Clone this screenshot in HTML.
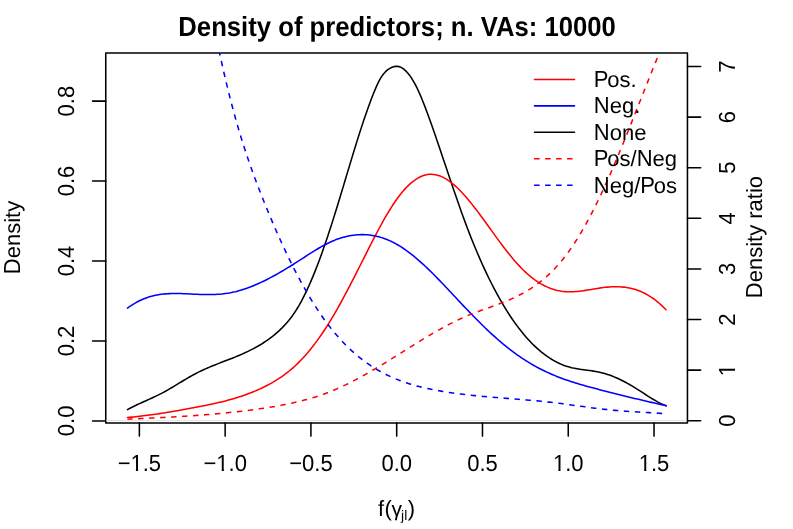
<!DOCTYPE html>
<html><head><meta charset="utf-8"><title>Density of predictors</title>
<style>html,body{margin:0;padding:0;background:#fff;}svg{display:block;will-change:transform;font-family:"Liberation Sans",sans-serif;}text{fill:#000;text-rendering:geometricPrecision;}</style>
</head><body>
<svg width="793" height="529" viewBox="0 0 793 529">
<rect x="0" y="0" width="793" height="529" fill="#ffffff"/>
<defs><clipPath id="pc"><rect x="105.75" y="52.95" width="581.7" height="369.95"/></clipPath></defs>
<g clip-path="url(#pc)" fill="none" stroke-width="1.55" stroke-linecap="round" stroke-linejoin="round">
<path d="M127.50,409.61 L129.50,408.53 L131.50,407.49 L133.50,406.48 L135.50,405.51 L137.50,404.56 L139.50,403.64 L141.50,402.73 L143.50,401.83 L145.50,400.93 L147.50,400.04 L149.50,399.14 L151.50,398.24 L153.50,397.31 L155.50,396.37 L157.50,395.41 L159.50,394.42 L161.50,393.39 L163.50,392.32 L165.50,391.23 L167.50,390.10 L169.50,388.94 L171.50,387.77 L173.50,386.57 L175.50,385.37 L177.50,384.16 L179.50,382.95 L181.50,381.74 L183.50,380.53 L185.50,379.34 L187.50,378.16 L189.50,377.01 L191.50,375.87 L193.50,374.77 L195.50,373.70 L197.50,372.67 L199.50,371.68 L201.50,370.71 L203.50,369.78 L205.50,368.88 L207.50,368.00 L209.50,367.15 L211.50,366.31 L213.50,365.49 L215.50,364.69 L217.50,363.90 L219.50,363.11 L221.50,362.34 L223.50,361.56 L225.50,360.79 L227.50,360.02 L229.50,359.24 L231.50,358.46 L233.50,357.66 L235.50,356.86 L237.50,356.04 L239.50,355.20 L241.50,354.34 L243.50,353.46 L245.50,352.55 L247.50,351.61 L249.50,350.64 L251.50,349.64 L253.50,348.60 L255.50,347.53 L257.50,346.41 L259.50,345.25 L261.50,344.04 L263.50,342.78 L265.50,341.46 L267.50,340.09 L269.50,338.66 L271.50,337.16 L273.50,335.58 L275.50,333.92 L277.50,332.18 L279.50,330.35 L281.50,328.42 L283.50,326.39 L285.50,324.24 L287.50,321.96 L289.50,319.53 L291.50,316.94 L293.50,314.17 L295.50,311.20 L297.50,308.03 L299.50,304.63 L301.50,301.02 L303.50,297.19 L305.50,293.16 L307.50,288.93 L309.50,284.50 L311.50,279.88 L313.50,275.08 L315.50,270.11 L317.50,264.96 L319.50,259.65 L321.50,254.18 L323.50,248.56 L325.50,242.80 L327.50,236.89 L329.50,230.85 L331.50,224.68 L333.50,218.39 L335.50,211.99 L337.50,205.51 L339.50,198.95 L341.50,192.34 L343.50,185.70 L345.50,179.04 L347.50,172.38 L349.50,165.73 L351.50,159.11 L353.50,152.55 L355.50,146.05 L357.50,139.64 L359.50,133.32 L361.50,127.13 L363.50,121.07 L365.50,115.17 L367.50,109.44 L369.50,103.90 L371.50,98.57 L373.50,93.47 L375.50,88.64 L377.50,84.16 L379.50,80.15 L381.50,76.71 L383.50,73.90 L385.50,71.68 L387.50,69.93 L389.50,68.57 L391.50,67.50 L393.50,66.76 L395.50,66.37 L397.50,66.37 L399.50,66.80 L401.50,67.65 L403.50,68.91 L405.50,70.59 L407.50,72.68 L409.50,75.17 L411.50,78.05 L413.50,81.32 L415.50,84.97 L417.50,88.99 L419.50,93.36 L421.50,98.03 L423.50,102.96 L425.50,108.12 L427.50,113.48 L429.50,118.99 L431.50,124.61 L433.50,130.32 L435.50,136.09 L437.50,141.93 L439.50,147.80 L441.50,153.71 L443.50,159.65 L445.50,165.59 L447.50,171.53 L449.50,177.47 L451.50,183.37 L453.50,189.25 L455.50,195.07 L457.50,200.84 L459.50,206.54 L461.50,212.16 L463.50,217.69 L465.50,223.11 L467.50,228.42 L469.50,233.62 L471.50,238.70 L473.50,243.68 L475.50,248.54 L477.50,253.29 L479.50,257.93 L481.50,262.46 L483.50,266.88 L485.50,271.20 L487.50,275.41 L489.50,279.51 L491.50,283.51 L493.50,287.41 L495.50,291.21 L497.50,294.90 L499.50,298.49 L501.50,301.98 L503.50,305.37 L505.50,308.67 L507.50,311.86 L509.50,314.96 L511.50,317.97 L513.50,320.87 L515.50,323.69 L517.50,326.41 L519.50,329.04 L521.50,331.58 L523.50,334.02 L525.50,336.38 L527.50,338.65 L529.50,340.83 L531.50,342.92 L533.50,344.93 L535.50,346.85 L537.50,348.69 L539.50,350.44 L541.50,352.11 L543.50,353.70 L545.50,355.21 L547.50,356.63 L549.50,357.97 L551.50,359.24 L553.50,360.42 L555.50,361.53 L557.50,362.55 L559.50,363.50 L561.50,364.38 L563.50,365.18 L565.50,365.90 L567.50,366.55 L569.50,367.12 L571.50,367.64 L573.50,368.09 L575.50,368.49 L577.50,368.85 L579.50,369.17 L581.50,369.47 L583.50,369.75 L585.50,370.02 L587.50,370.28 L589.50,370.55 L591.50,370.83 L593.50,371.13 L595.50,371.46 L597.50,371.82 L599.50,372.23 L601.50,372.69 L603.50,373.20 L605.50,373.77 L607.50,374.40 L609.50,375.08 L611.50,375.81 L613.50,376.60 L615.50,377.43 L617.50,378.31 L619.50,379.24 L621.50,380.20 L623.50,381.22 L625.50,382.27 L627.50,383.36 L629.50,384.49 L631.50,385.65 L633.50,386.85 L635.50,388.07 L637.50,389.33 L639.50,390.61 L641.50,391.91 L643.50,393.21 L645.50,394.51 L647.50,395.80 L649.50,397.07 L651.50,398.32 L653.50,399.53 L655.50,400.70 L657.50,401.82 L659.50,402.88 L661.50,403.88 L663.50,404.80 L665.50,405.64 L666.00,405.84" stroke="#000"/>
</g>
<g fill="none" stroke="#000" stroke-width="1.55" stroke-linecap="round" stroke-linejoin="round">
<line x1="139.37" y1="422.9" x2="139.37" y2="436.10"/>
<line x1="225.15" y1="422.9" x2="225.15" y2="436.10"/>
<line x1="310.92" y1="422.9" x2="310.92" y2="436.10"/>
<line x1="396.70" y1="422.9" x2="396.70" y2="436.10"/>
<line x1="482.48" y1="422.9" x2="482.48" y2="436.10"/>
<line x1="568.25" y1="422.9" x2="568.25" y2="436.10"/>
<line x1="654.03" y1="422.9" x2="654.03" y2="436.10"/>
<line x1="105.75" y1="420.90" x2="92.55" y2="420.90"/>
<line x1="105.75" y1="340.95" x2="92.55" y2="340.95"/>
<line x1="105.75" y1="261.00" x2="92.55" y2="261.00"/>
<line x1="105.75" y1="181.05" x2="92.55" y2="181.05"/>
<line x1="105.75" y1="101.10" x2="92.55" y2="101.10"/>
<rect x="105.75" y="52.95" width="581.7" height="369.95"/>
</g>
<g clip-path="url(#pc)" fill="none" stroke-width="1.55" stroke-linecap="round" stroke-linejoin="round">
<line x1="105.75" y1="420.6" x2="687.45" y2="420.6" stroke="#d9d9d9" stroke-width="0.8" stroke-linecap="butt"/>
<path d="M127.50,417.46 L129.50,417.29 L131.50,417.11 L133.50,416.91 L135.50,416.71 L137.50,416.50 L139.50,416.28 L141.50,416.05 L143.50,415.81 L145.50,415.56 L147.50,415.31 L149.50,415.04 L151.50,414.77 L153.50,414.49 L155.50,414.20 L157.50,413.91 L159.50,413.61 L161.50,413.30 L163.50,412.99 L165.50,412.67 L167.50,412.35 L169.50,412.02 L171.50,411.68 L173.50,411.34 L175.50,411.00 L177.50,410.65 L179.50,410.29 L181.50,409.94 L183.50,409.57 L185.50,409.21 L187.50,408.84 L189.50,408.47 L191.50,408.09 L193.50,407.72 L195.50,407.34 L197.50,406.95 L199.50,406.57 L201.50,406.18 L203.50,405.79 L205.50,405.39 L207.50,404.98 L209.50,404.57 L211.50,404.15 L213.50,403.72 L215.50,403.28 L217.50,402.83 L219.50,402.36 L221.50,401.89 L223.50,401.39 L225.50,400.89 L227.50,400.37 L229.50,399.83 L231.50,399.27 L233.50,398.70 L235.50,398.11 L237.50,397.49 L239.50,396.86 L241.50,396.20 L243.50,395.52 L245.50,394.82 L247.50,394.09 L249.50,393.34 L251.50,392.56 L253.50,391.75 L255.50,390.91 L257.50,390.04 L259.50,389.15 L261.50,388.22 L263.50,387.26 L265.50,386.27 L267.50,385.24 L269.50,384.17 L271.50,383.06 L273.50,381.91 L275.50,380.71 L277.50,379.46 L279.50,378.16 L281.50,376.80 L283.50,375.39 L285.50,373.91 L287.50,372.37 L289.50,370.76 L291.50,369.09 L293.50,367.34 L295.50,365.51 L297.50,363.61 L299.50,361.63 L301.50,359.57 L303.50,357.42 L305.50,355.20 L307.50,352.89 L309.50,350.51 L311.50,348.04 L313.50,345.49 L315.50,342.86 L317.50,340.15 L319.50,337.36 L321.50,334.48 L323.50,331.53 L325.50,328.49 L327.50,325.37 L329.50,322.17 L331.50,318.89 L333.50,315.53 L335.50,312.09 L337.50,308.58 L339.50,305.00 L341.50,301.36 L343.50,297.67 L345.50,293.92 L347.50,290.13 L349.50,286.30 L351.50,282.44 L353.50,278.54 L355.50,274.62 L357.50,270.69 L359.50,266.73 L361.50,262.77 L363.50,258.80 L365.50,254.84 L367.50,250.88 L369.50,246.94 L371.50,243.02 L373.50,239.13 L375.50,235.28 L377.50,231.49 L379.50,227.75 L381.50,224.08 L383.50,220.49 L385.50,216.98 L387.50,213.56 L389.50,210.25 L391.50,207.05 L393.50,203.96 L395.50,201.01 L397.50,198.19 L399.50,195.51 L401.50,192.99 L403.50,190.61 L405.50,188.39 L407.50,186.32 L409.50,184.40 L411.50,182.64 L413.50,181.05 L415.50,179.62 L417.50,178.35 L419.50,177.25 L421.50,176.32 L423.50,175.56 L425.50,174.97 L427.50,174.56 L429.50,174.33 L431.50,174.27 L433.50,174.40 L435.50,174.71 L437.50,175.18 L439.50,175.82 L441.50,176.62 L443.50,177.57 L445.50,178.67 L447.50,179.91 L449.50,181.28 L451.50,182.79 L453.50,184.41 L455.50,186.16 L457.50,188.01 L459.50,189.98 L461.50,192.04 L463.50,194.19 L465.50,196.44 L467.50,198.76 L469.50,201.16 L471.50,203.63 L473.50,206.16 L475.50,208.75 L477.50,211.38 L479.50,214.05 L481.50,216.76 L483.50,219.50 L485.50,222.26 L487.50,225.03 L489.50,227.81 L491.50,230.59 L493.50,233.37 L495.50,236.13 L497.50,238.88 L499.50,241.59 L501.50,244.28 L503.50,246.92 L505.50,249.52 L507.50,252.08 L509.50,254.58 L511.50,257.03 L513.50,259.41 L515.50,261.72 L517.50,263.96 L519.50,266.13 L521.50,268.21 L523.50,270.22 L525.50,272.13 L527.50,273.96 L529.50,275.70 L531.50,277.35 L533.50,278.91 L535.50,280.36 L537.50,281.72 L539.50,282.99 L541.50,284.16 L543.50,285.24 L545.50,286.23 L547.50,287.14 L549.50,287.96 L551.50,288.69 L553.50,289.34 L555.50,289.91 L557.50,290.40 L559.50,290.82 L561.50,291.16 L563.50,291.42 L565.50,291.61 L567.50,291.73 L569.50,291.78 L571.50,291.77 L573.50,291.70 L575.50,291.58 L577.50,291.42 L579.50,291.21 L581.50,290.96 L583.50,290.69 L585.50,290.39 L587.50,290.07 L589.50,289.75 L591.50,289.41 L593.50,289.07 L595.50,288.74 L597.50,288.42 L599.50,288.11 L601.50,287.82 L603.50,287.56 L605.50,287.33 L607.50,287.13 L609.50,286.97 L611.50,286.85 L613.50,286.77 L615.50,286.74 L617.50,286.75 L619.50,286.82 L621.50,286.94 L623.50,287.11 L625.50,287.35 L627.50,287.66 L629.50,288.03 L631.50,288.47 L633.50,288.98 L635.50,289.57 L637.50,290.24 L639.50,290.99 L641.50,291.83 L643.50,292.75 L645.50,293.76 L647.50,294.87 L649.50,296.06 L651.50,297.35 L653.50,298.74 L655.50,300.23 L657.50,301.83 L659.50,303.52 L661.50,305.33 L663.50,307.24 L665.50,309.27 L666.00,309.79" stroke="#ff0000"/>
<path d="M127.50,308.15 L129.50,306.69 L131.50,305.32 L133.50,304.05 L135.50,302.86 L137.50,301.76 L139.50,300.75 L141.50,299.82 L143.50,298.96 L145.50,298.18 L147.50,297.47 L149.50,296.84 L151.50,296.26 L153.50,295.76 L155.50,295.31 L157.50,294.92 L159.50,294.58 L161.50,294.30 L163.50,294.06 L165.50,293.87 L167.50,293.73 L169.50,293.62 L171.50,293.55 L173.50,293.51 L175.50,293.49 L177.50,293.51 L179.50,293.54 L181.50,293.60 L183.50,293.67 L185.50,293.75 L187.50,293.85 L189.50,293.95 L191.50,294.05 L193.50,294.15 L195.50,294.24 L197.50,294.33 L199.50,294.41 L201.50,294.48 L203.50,294.53 L205.50,294.56 L207.50,294.58 L209.50,294.58 L211.50,294.55 L213.50,294.50 L215.50,294.42 L217.50,294.31 L219.50,294.17 L221.50,294.00 L223.50,293.78 L225.50,293.53 L227.50,293.24 L229.50,292.91 L231.50,292.53 L233.50,292.10 L235.50,291.64 L237.50,291.13 L239.50,290.58 L241.50,289.99 L243.50,289.36 L245.50,288.69 L247.50,287.99 L249.50,287.25 L251.50,286.48 L253.50,285.67 L255.50,284.84 L257.50,283.97 L259.50,283.07 L261.50,282.15 L263.50,281.19 L265.50,280.21 L267.50,279.21 L269.50,278.17 L271.50,277.12 L273.50,276.04 L275.50,274.95 L277.50,273.83 L279.50,272.69 L281.50,271.53 L283.50,270.35 L285.50,269.16 L287.50,267.95 L289.50,266.72 L291.50,265.48 L293.50,264.23 L295.50,262.96 L297.50,261.69 L299.50,260.40 L301.50,259.10 L303.50,257.80 L305.50,256.51 L307.50,255.22 L309.50,253.93 L311.50,252.66 L313.50,251.41 L315.50,250.18 L317.50,248.97 L319.50,247.79 L321.50,246.64 L323.50,245.53 L325.50,244.46 L327.50,243.44 L329.50,242.46 L331.50,241.53 L333.50,240.67 L335.50,239.85 L337.50,239.10 L339.50,238.40 L341.50,237.76 L343.50,237.18 L345.50,236.65 L347.50,236.19 L349.50,235.78 L351.50,235.44 L353.50,235.15 L355.50,234.92 L357.50,234.76 L359.50,234.65 L361.50,234.61 L363.50,234.63 L365.50,234.71 L367.50,234.85 L369.50,235.06 L371.50,235.33 L373.50,235.66 L375.50,236.06 L377.50,236.52 L379.50,237.04 L381.50,237.63 L383.50,238.29 L385.50,239.01 L387.50,239.79 L389.50,240.65 L391.50,241.57 L393.50,242.56 L395.50,243.61 L397.50,244.73 L399.50,245.92 L401.50,247.18 L403.50,248.50 L405.50,249.88 L407.50,251.32 L409.50,252.82 L411.50,254.37 L413.50,255.97 L415.50,257.62 L417.50,259.32 L419.50,261.06 L421.50,262.84 L423.50,264.67 L425.50,266.53 L427.50,268.42 L429.50,270.35 L431.50,272.31 L433.50,274.30 L435.50,276.31 L437.50,278.35 L439.50,280.41 L441.50,282.48 L443.50,284.57 L445.50,286.68 L447.50,288.79 L449.50,290.92 L451.50,293.05 L453.50,295.19 L455.50,297.32 L457.50,299.46 L459.50,301.60 L461.50,303.72 L463.50,305.85 L465.50,307.96 L467.50,310.06 L469.50,312.14 L471.50,314.21 L473.50,316.27 L475.50,318.30 L477.50,320.32 L479.50,322.32 L481.50,324.30 L483.50,326.25 L485.50,328.19 L487.50,330.09 L489.50,331.98 L491.50,333.83 L493.50,335.66 L495.50,337.45 L497.50,339.22 L499.50,340.95 L501.50,342.65 L503.50,344.32 L505.50,345.95 L507.50,347.55 L509.50,349.12 L511.50,350.65 L513.50,352.15 L515.50,353.61 L517.50,355.04 L519.50,356.44 L521.50,357.80 L523.50,359.13 L525.50,360.42 L527.50,361.68 L529.50,362.91 L531.50,364.10 L533.50,365.25 L535.50,366.37 L537.50,367.46 L539.50,368.51 L541.50,369.53 L543.50,370.52 L545.50,371.48 L547.50,372.41 L549.50,373.32 L551.50,374.19 L553.50,375.04 L555.50,375.87 L557.50,376.67 L559.50,377.44 L561.50,378.20 L563.50,378.93 L565.50,379.65 L567.50,380.34 L569.50,381.02 L571.50,381.67 L573.50,382.32 L575.50,382.94 L577.50,383.56 L579.50,384.16 L581.50,384.74 L583.50,385.32 L585.50,385.88 L587.50,386.44 L589.50,386.99 L591.50,387.53 L593.50,388.06 L595.50,388.59 L597.50,389.11 L599.50,389.63 L601.50,390.14 L603.50,390.66 L605.50,391.17 L607.50,391.68 L609.50,392.19 L611.50,392.70 L613.50,393.21 L615.50,393.71 L617.50,394.21 L619.50,394.71 L621.50,395.21 L623.50,395.70 L625.50,396.20 L627.50,396.69 L629.50,397.18 L631.50,397.66 L633.50,398.15 L635.50,398.63 L637.50,399.11 L639.50,399.58 L641.50,400.05 L643.50,400.53 L645.50,400.99 L647.50,401.46 L649.50,401.92 L651.50,402.38 L653.50,402.84 L655.50,403.29 L657.50,403.74 L659.50,404.19 L661.50,404.63 L663.50,405.08 L665.50,405.51 L666.00,405.62" stroke="#0000ff"/>
<path d="M127.50,419.16 L129.50,419.08 L131.50,418.99 L133.50,418.90 L135.50,418.82 L137.50,418.73 L139.50,418.64 L141.50,418.55 L143.50,418.46 L145.50,418.37 L147.50,418.27 L149.50,418.18 L151.50,418.08 L153.50,417.99 L155.50,417.89 L157.50,417.79 L159.50,417.69 L161.50,417.59 L163.50,417.48 L165.50,417.37 L167.50,417.27 L169.50,417.16 L171.50,417.04 L173.50,416.93 L175.50,416.81 L177.50,416.69 L179.50,416.57 L181.50,416.45 L183.50,416.32 L185.50,416.19 L187.50,416.06 L189.50,415.93 L191.50,415.79 L193.50,415.65 L195.50,415.50 L197.50,415.36 L199.50,415.21 L201.50,415.06 L203.50,414.90 L205.50,414.74 L207.50,414.58 L209.50,414.41 L211.50,414.24 L213.50,414.06 L215.50,413.88 L217.50,413.70 L219.50,413.52 L221.50,413.32 L223.50,413.13 L225.50,412.93 L227.50,412.73 L229.50,412.52 L231.50,412.31 L233.50,412.09 L235.50,411.87 L237.50,411.64 L239.50,411.41 L241.50,411.18 L243.50,410.93 L245.50,410.69 L247.50,410.44 L249.50,410.18 L251.50,409.92 L253.50,409.65 L255.50,409.38 L257.50,409.10 L259.50,408.82 L261.50,408.53 L263.50,408.23 L265.50,407.93 L267.50,407.62 L269.50,407.31 L271.50,406.98 L273.50,406.65 L275.50,406.31 L277.50,405.97 L279.50,405.61 L281.50,405.24 L283.50,404.86 L285.50,404.47 L287.50,404.07 L289.50,403.65 L291.50,403.23 L293.50,402.79 L295.50,402.33 L297.50,401.86 L299.50,401.38 L301.50,400.88 L303.50,400.36 L305.50,399.83 L307.50,399.28 L309.50,398.71 L311.50,398.12 L313.50,397.52 L315.50,396.90 L317.50,396.25 L319.50,395.59 L321.50,394.90 L323.50,394.19 L325.50,393.46 L327.50,392.71 L329.50,391.94 L331.50,391.14 L333.50,390.31 L335.50,389.47 L337.50,388.60 L339.50,387.71 L341.50,386.79 L343.50,385.86 L345.50,384.91 L347.50,383.93 L349.50,382.94 L351.50,381.93 L353.50,380.90 L355.50,379.85 L357.50,378.79 L359.50,377.71 L361.50,376.62 L363.50,375.51 L365.50,374.39 L367.50,373.26 L369.50,372.11 L371.50,370.95 L373.50,369.78 L375.50,368.60 L377.50,367.41 L379.50,366.21 L381.50,365.01 L383.50,363.79 L385.50,362.57 L387.50,361.34 L389.50,360.11 L391.50,358.87 L393.50,357.62 L395.50,356.38 L397.50,355.12 L399.50,353.87 L401.50,352.62 L403.50,351.36 L405.50,350.10 L407.50,348.85 L409.50,347.60 L411.50,346.34 L413.50,345.10 L415.50,343.85 L417.50,342.62 L419.50,341.38 L421.50,340.16 L423.50,338.94 L425.50,337.73 L427.50,336.53 L429.50,335.34 L431.50,334.16 L433.50,332.99 L435.50,331.83 L437.50,330.69 L439.50,329.56 L441.50,328.45 L443.50,327.35 L445.50,326.27 L447.50,325.20 L449.50,324.16 L451.50,323.13 L453.50,322.13 L455.50,321.14 L457.50,320.18 L459.50,319.24 L461.50,318.32 L463.50,317.43 L465.50,316.56 L467.50,315.71 L469.50,314.89 L471.50,314.09 L473.50,313.31 L475.50,312.55 L477.50,311.80 L479.50,311.06 L481.50,310.33 L483.50,309.61 L485.50,308.89 L487.50,308.17 L489.50,307.46 L491.50,306.74 L493.50,306.01 L495.50,305.28 L497.50,304.54 L499.50,303.78 L501.50,303.01 L503.50,302.22 L505.50,301.42 L507.50,300.59 L509.50,299.73 L511.50,298.85 L513.50,297.94 L515.50,297.00 L517.50,296.03 L519.50,295.01 L521.50,293.96 L523.50,292.87 L525.50,291.74 L527.50,290.56 L529.50,289.33 L531.50,288.05 L533.50,286.71 L535.50,285.33 L537.50,283.88 L539.50,282.37 L541.50,280.80 L543.50,279.16 L545.50,277.45 L547.50,275.67 L549.50,273.81 L551.50,271.88 L553.50,269.86 L555.50,267.77 L557.50,265.58 L559.50,263.31 L561.50,260.94 L563.50,258.48 L565.50,255.92 L567.50,253.26 L569.50,250.49 L571.50,247.63 L573.50,244.66 L575.50,241.60 L577.50,238.44 L579.50,235.18 L581.50,231.82 L583.50,228.38 L585.50,224.84 L587.50,221.21 L589.50,217.49 L591.50,213.68 L593.50,209.78 L595.50,205.80 L597.50,201.74 L599.50,197.59 L601.50,193.36 L603.50,189.06 L605.50,184.67 L607.50,180.22 L609.50,175.70 L611.50,171.11 L613.50,166.47 L615.50,161.77 L617.50,157.02 L619.50,152.22 L621.50,147.38 L623.50,142.50 L625.50,137.58 L627.50,132.64 L629.50,127.66 L631.50,122.66 L633.50,117.65 L635.50,112.62 L637.50,107.58 L639.50,102.53 L641.50,97.48 L643.50,92.43 L645.50,87.38 L647.50,82.35 L649.50,77.33 L651.50,72.32 L653.50,67.34 L655.50,62.38 L657.50,57.46 L659.50,52.56 L661.50,47.71 L663.50,42.89 L665.50,38.13 L666.00,36.94" stroke="#ff0000" stroke-dasharray="5.4 5.6" stroke-dashoffset="0.35" stroke-linecap="butt"/>
<path d="M205.00,-20.75 L207.00,-9.79 L209.00,0.91 L211.00,11.35 L213.00,21.54 L215.00,31.46 L217.00,41.12 L219.00,50.53 L221.00,59.68 L223.00,68.57 L225.00,77.21 L227.00,85.59 L229.00,93.72 L231.00,101.59 L233.00,109.20 L235.00,116.56 L237.00,123.68 L239.00,130.55 L241.00,137.19 L243.00,143.62 L245.00,149.86 L247.00,155.90 L249.00,161.77 L251.00,167.49 L253.00,173.06 L255.00,178.49 L257.00,183.81 L259.00,189.02 L261.00,194.14 L263.00,199.18 L265.00,204.15 L267.00,209.06 L269.00,213.90 L271.00,218.67 L273.00,223.38 L275.00,228.02 L277.00,232.59 L279.00,237.09 L281.00,241.52 L283.00,245.88 L285.00,250.18 L287.00,254.40 L289.00,258.55 L291.00,262.62 L293.00,266.63 L295.00,270.56 L297.00,274.42 L299.00,278.21 L301.00,281.92 L303.00,285.56 L305.00,289.12 L307.00,292.60 L309.00,296.01 L311.00,299.34 L313.00,302.60 L315.00,305.78 L317.00,308.88 L319.00,311.90 L321.00,314.84 L323.00,317.70 L325.00,320.48 L327.00,323.18 L329.00,325.81 L331.00,328.37 L333.00,330.85 L335.00,333.26 L337.00,335.60 L339.00,337.87 L341.00,340.07 L343.00,342.20 L345.00,344.27 L347.00,346.28 L349.00,348.22 L351.00,350.10 L353.00,351.92 L355.00,353.68 L357.00,355.39 L359.00,357.04 L361.00,358.63 L363.00,360.17 L365.00,361.66 L367.00,363.10 L369.00,364.48 L371.00,365.82 L373.00,367.12 L375.00,368.36 L377.00,369.56 L379.00,370.72 L381.00,371.84 L383.00,372.92 L385.00,373.95 L387.00,374.95 L389.00,375.91 L391.00,376.84 L393.00,377.73 L395.00,378.58 L397.00,379.40 L399.00,380.19 L401.00,380.95 L403.00,381.68 L405.00,382.37 L407.00,383.04 L409.00,383.69 L411.00,384.30 L413.00,384.89 L415.00,385.46 L417.00,386.01 L419.00,386.53 L421.00,387.03 L423.00,387.51 L425.00,387.97 L427.00,388.42 L429.00,388.85 L431.00,389.26 L433.00,389.66 L435.00,390.04 L437.00,390.41 L439.00,390.77 L441.00,391.12 L443.00,391.45 L445.00,391.78 L447.00,392.10 L449.00,392.40 L451.00,392.70 L453.00,392.99 L455.00,393.27 L457.00,393.54 L459.00,393.80 L461.00,394.05 L463.00,394.30 L465.00,394.53 L467.00,394.76 L469.00,394.99 L471.00,395.21 L473.00,395.42 L475.00,395.62 L477.00,395.82 L479.00,396.02 L481.00,396.21 L483.00,396.40 L485.00,396.58 L487.00,396.75 L489.00,396.93 L491.00,397.10 L493.00,397.27 L495.00,397.43 L497.00,397.60 L499.00,397.76 L501.00,397.92 L503.00,398.08 L505.00,398.23 L507.00,398.39 L509.00,398.55 L511.00,398.71 L513.00,398.86 L515.00,399.02 L517.00,399.18 L519.00,399.34 L521.00,399.50 L523.00,399.66 L525.00,399.83 L527.00,400.00 L529.00,400.17 L531.00,400.34 L533.00,400.52 L535.00,400.70 L537.00,400.89 L539.00,401.08 L541.00,401.28 L543.00,401.48 L545.00,401.68 L547.00,401.90 L549.00,402.11 L551.00,402.34 L553.00,402.57 L555.00,402.81 L557.00,403.05 L559.00,403.31 L561.00,403.56 L563.00,403.82 L565.00,404.09 L567.00,404.36 L569.00,404.63 L571.00,404.90 L573.00,405.18 L575.00,405.46 L577.00,405.74 L579.00,406.01 L581.00,406.29 L583.00,406.57 L585.00,406.84 L587.00,407.12 L589.00,407.39 L591.00,407.65 L593.00,407.91 L595.00,408.17 L597.00,408.42 L599.00,408.67 L601.00,408.91 L603.00,409.15 L605.00,409.37 L607.00,409.59 L609.00,409.80 L611.00,410.00 L613.00,410.19 L615.00,410.37 L617.00,410.54 L619.00,410.71 L621.00,410.86 L623.00,411.01 L625.00,411.16 L627.00,411.29 L629.00,411.43 L631.00,411.56 L633.00,411.68 L635.00,411.80 L637.00,411.92 L639.00,412.04 L641.00,412.16 L643.00,412.27 L645.00,412.39 L647.00,412.50 L649.00,412.62 L651.00,412.74 L653.00,412.86 L655.00,412.99 L657.00,413.12 L659.00,413.25 L661.00,413.39 L663.00,413.53 L665.00,413.68 L666.00,413.75" stroke="#0000ff" stroke-dasharray="5.4 5.6" stroke-dashoffset="4.65" stroke-linecap="butt"/>
</g>
<g fill="none" stroke="#000" stroke-width="1.55" stroke-linecap="round" stroke-linejoin="round">
<line x1="687.45" y1="420.70" x2="700.65" y2="420.70"/>
<line x1="687.45" y1="370.10" x2="700.65" y2="370.10"/>
<line x1="687.45" y1="319.50" x2="700.65" y2="319.50"/>
<line x1="687.45" y1="268.90" x2="700.65" y2="268.90"/>
<line x1="687.45" y1="218.30" x2="700.65" y2="218.30"/>
<line x1="687.45" y1="167.70" x2="700.65" y2="167.70"/>
<line x1="687.45" y1="117.10" x2="700.65" y2="117.10"/>
<line x1="687.45" y1="66.50" x2="700.65" y2="66.50"/>
</g>
<g font-size="22px" text-anchor="middle">
<text transform="translate(139.37,471.1) scale(1,1.055)">−1.5</text>
<text transform="translate(225.15,471.1) scale(1,1.055)">−1.0</text>
<text transform="translate(310.92,471.1) scale(1,1.055)">−0.5</text>
<text transform="translate(396.70,471.1) scale(1,1.055)">0.0</text>
<text transform="translate(482.48,471.1) scale(1,1.055)">0.5</text>
<text transform="translate(568.25,471.1) scale(1,1.055)">1.0</text>
<text transform="translate(654.03,471.1) scale(1,1.055)">1.5</text>
<text transform="translate(74.2,420.90) rotate(-90) scale(1,1.055)">0.0</text>
<text transform="translate(74.2,340.95) rotate(-90) scale(1,1.055)">0.2</text>
<text transform="translate(74.2,261.00) rotate(-90) scale(1,1.055)">0.4</text>
<text transform="translate(74.2,181.05) rotate(-90) scale(1,1.055)">0.6</text>
<text transform="translate(74.2,101.10) rotate(-90) scale(1,1.055)">0.8</text>
<text transform="translate(734.9,420.70) rotate(-90) scale(1,1.055)">0</text>
<text transform="translate(734.9,370.10) rotate(-90) scale(1,1.055)">1</text>
<text transform="translate(734.9,319.50) rotate(-90) scale(1,1.055)">2</text>
<text transform="translate(734.9,268.90) rotate(-90) scale(1,1.055)">3</text>
<text transform="translate(734.9,218.30) rotate(-90) scale(1,1.055)">4</text>
<text transform="translate(734.9,167.70) rotate(-90) scale(1,1.055)">5</text>
<text transform="translate(734.9,117.10) rotate(-90) scale(1,1.055)">6</text>
<text transform="translate(734.9,66.50) rotate(-90) scale(1,1.055)">7</text>
<g transform="translate(139.37,471.1)"><rect x="-7.79" y="-2.08" width="4.36" height="2.73" fill="#fff"/><rect x="-1.29" y="-2.08" width="4.28" height="2.73" fill="#fff"/></g>
<g transform="translate(225.15,471.1)"><rect x="-7.79" y="-2.08" width="4.36" height="2.73" fill="#fff"/><rect x="-1.29" y="-2.08" width="4.28" height="2.73" fill="#fff"/></g>
<g transform="translate(568.25,471.1)"><rect x="-14.22" y="-2.08" width="4.36" height="2.73" fill="#fff"/><rect x="-7.71" y="-2.08" width="4.28" height="2.73" fill="#fff"/></g>
<g transform="translate(654.03,471.1)"><rect x="-14.22" y="-2.08" width="4.36" height="2.73" fill="#fff"/><rect x="-7.71" y="-2.08" width="4.28" height="2.73" fill="#fff"/></g>
<g transform="translate(734.9,370.10) rotate(-90)"><rect x="-5.04" y="-2.08" width="4.36" height="2.73" fill="#fff"/><rect x="1.46" y="-2.08" width="4.28" height="2.73" fill="#fff"/></g>
</g>
<g font-size="22px">
<g transform="translate(20.4,274.13) rotate(-90)"><text transform="translate(0.00,0) scale(1,1.055)">D</text><text transform="translate(15.89,0) scale(1,1.0)">ensity</text></g>
<g transform="translate(761.7,298.23) rotate(-90)"><text transform="translate(0.00,0) scale(1,1.055)">D</text><text transform="translate(15.89,0) scale(1,1.0)">ensity ratio</text></g>
</g>
<g>
<text x="378.1" y="516.4" font-size="22px">f</text>
<text x="384.4" y="516.4" font-size="22px">(</text>
<text x="391.6" y="516.4" font-size="21px">γ</text>
<text x="401.1" y="520.0" font-size="13.8px">j</text>
<text x="404.3" y="520.0" font-size="13.8px">l</text>
<text x="407.8" y="516.4" font-size="22px">)</text>
</g>
<text transform="translate(397.1,35.6) scale(1,1.045)" font-size="26.4px" font-weight="bold" text-anchor="middle" textLength="437.6" lengthAdjust="spacingAndGlyphs">Density of predictors; n. VAs: 10000</text>
<g fill="none" stroke-width="1.55" stroke-linecap="butt">
<line x1="534.5" y1="79.45" x2="574.5" y2="79.45" stroke="#ff0000" stroke-linecap="round"/>
<line x1="534.5" y1="105.88" x2="574.5" y2="105.88" stroke="#0000ff" stroke-linecap="round"/>
<line x1="534.5" y1="132.31" x2="574.5" y2="132.31" stroke="#000" stroke-linecap="round"/>
<line x1="534.1" y1="158.74" x2="574.9" y2="158.74" stroke="#ff0000" stroke-dasharray="5.5 5.5"/>
<line x1="534.1" y1="185.17" x2="574.9" y2="185.17" stroke="#0000ff" stroke-dasharray="5.5 5.5"/>
</g>
<g font-size="22px">
<g transform="translate(593.85,87.00)"><text transform="translate(0.00,0) scale(1,1.055)">P</text><text transform="translate(13.47,0) scale(1,1.0)">os.</text></g>
<g transform="translate(593.85,113.43)"><text transform="translate(0.00,0) scale(1,1.055)">N</text><text transform="translate(15.89,0) scale(1,1.0)">eg.</text></g>
<g transform="translate(593.85,139.86)"><text transform="translate(0.00,0) scale(1,1.055)">N</text><text transform="translate(15.89,0) scale(1,1.0)">one</text></g>
<g transform="translate(593.85,166.29)"><text transform="translate(0.00,0) scale(1,1.055)">P</text><text transform="translate(13.47,0) scale(1,1.0)">os/</text><text transform="translate(42.82,0) scale(1,1.055)">N</text><text transform="translate(58.71,0) scale(1,1.0)">eg</text></g>
<g transform="translate(593.85,192.72)"><text transform="translate(0.00,0) scale(1,1.055)">N</text><text transform="translate(15.89,0) scale(1,1.0)">eg/</text><text transform="translate(46.47,0) scale(1,1.055)">P</text><text transform="translate(59.94,0) scale(1,1.0)">os</text></g>
</g>
</svg>
</body></html>
